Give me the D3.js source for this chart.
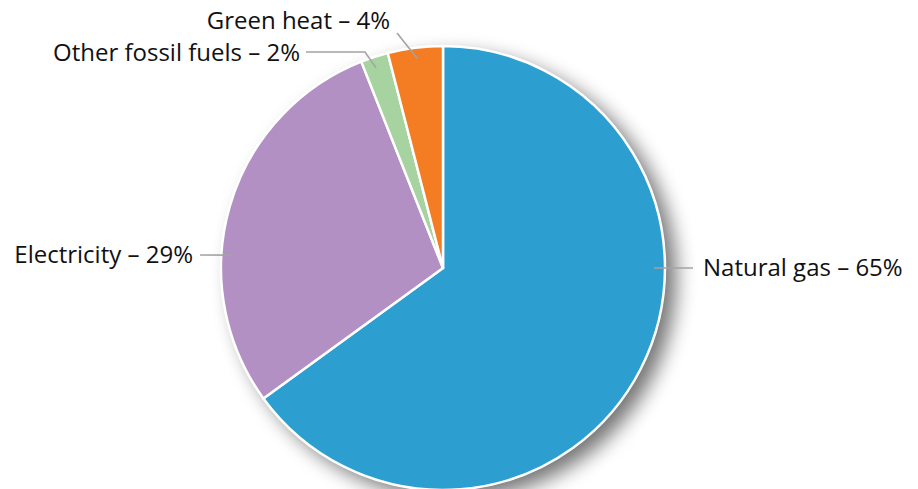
<!DOCTYPE html>
<html>
<head>
<meta charset="utf-8">
<script src="https://cdn.jsdelivr.net/npm/d3@7"></script>
<style>
  html, body { margin: 0; padding: 0; background: #fff; }
  svg { display: block; }
  text { font-family: "Open Sans", "Noto Sans", sans-serif; fill: #111; }
</style>
</head>
<body>
<svg id="chart" width="918" height="489"></svg>
<script>
// Heating sources, shares in percent (clockwise from 12 o'clock)
const categories = ["Natural gas", "Electricity", "Other fossil fuels", "Green heat"];
const shares = [65, 29, 2, 4];
const colors = ["#2c9fd0", "#b290c4", "#a6d39f", "#f47c22"];

// Label placement: angle (deg, clockwise from top) where the leader meets the pie,
// elbow/end points of each leader relative to the pie centre, and the text anchor side.
const labelLayout = [
  { angle: 90,    pts: [[250, 0]],                  anchor: "start", dx: 10 },
  { angle: 273.5, pts: [[-243, -13]],               anchor: "end",   dx: -7 },
  { angle: 341.5, pts: [[-78, -216], [-137, -216]], anchor: "end",   dx: -6, dy: 1 },
  { angle: 353,   pts: [[-46, -235]],               anchor: "end",   dx: -7, dy: -12 }
];

const width = 918, height = 489;
const cx = 443, cy = 268, radius = 222;

const svg = d3.select("#chart");

const defs = svg.append("defs");
const shadow = defs.append("filter")
  .attr("id", "pieShadow")
  .attr("x", "-30%").attr("y", "-30%")
  .attr("width", "160%").attr("height", "160%");
shadow.append("feGaussianBlur").attr("in", "SourceAlpha").attr("stdDeviation", 10);
shadow.append("feOffset").attr("dx", 11).attr("dy", 9).attr("result", "off");
shadow.append("feComponentTransfer").append("feFuncA").attr("type", "linear").attr("slope", 0.55);

const g = svg.append("g").attr("transform", `translate(${cx},${cy})`);

// soft drop shadow behind the pie
g.append("circle")
  .attr("r", radius)
  .attr("fill", "#000")
  .attr("filter", "url(#pieShadow)");

const pie = d3.pie().sort(null).value(d => d)(shares);
const arc = d3.arc().innerRadius(0).outerRadius(radius);

g.selectAll("path.slice")
  .data(pie)
  .join("path")
  .attr("class", "slice")
  .attr("d", arc)
  .attr("fill", (d, i) => colors[i])
  .attr("stroke", "#fff")
  .attr("stroke-width", 2.5)
  .attr("stroke-linejoin", "round");

// leaders and labels
const innerR = 211;
labelLayout.forEach((L, i) => {
  const a = L.angle * Math.PI / 180;
  const start = [innerR * Math.sin(a), -innerR * Math.cos(a)];
  const pts = [start, ...L.pts];
  g.append("path")
    .attr("d", d3.line()(pts))
    .attr("fill", "none")
    .attr("stroke", "#a3a3a3")
    .attr("stroke-width", 1.6);
  const end = pts[pts.length - 1];
  g.append("text")
    .attr("x", end[0] + L.dx)
    .attr("y", end[1] + (L.dy || 0))
    .attr("dy", "0.35em")
    .attr("text-anchor", L.anchor)
    .attr("font-size", 24)
    .text(`${categories[i]} – ${shares[i]}%`);
});
</script>
</body>
</html>
